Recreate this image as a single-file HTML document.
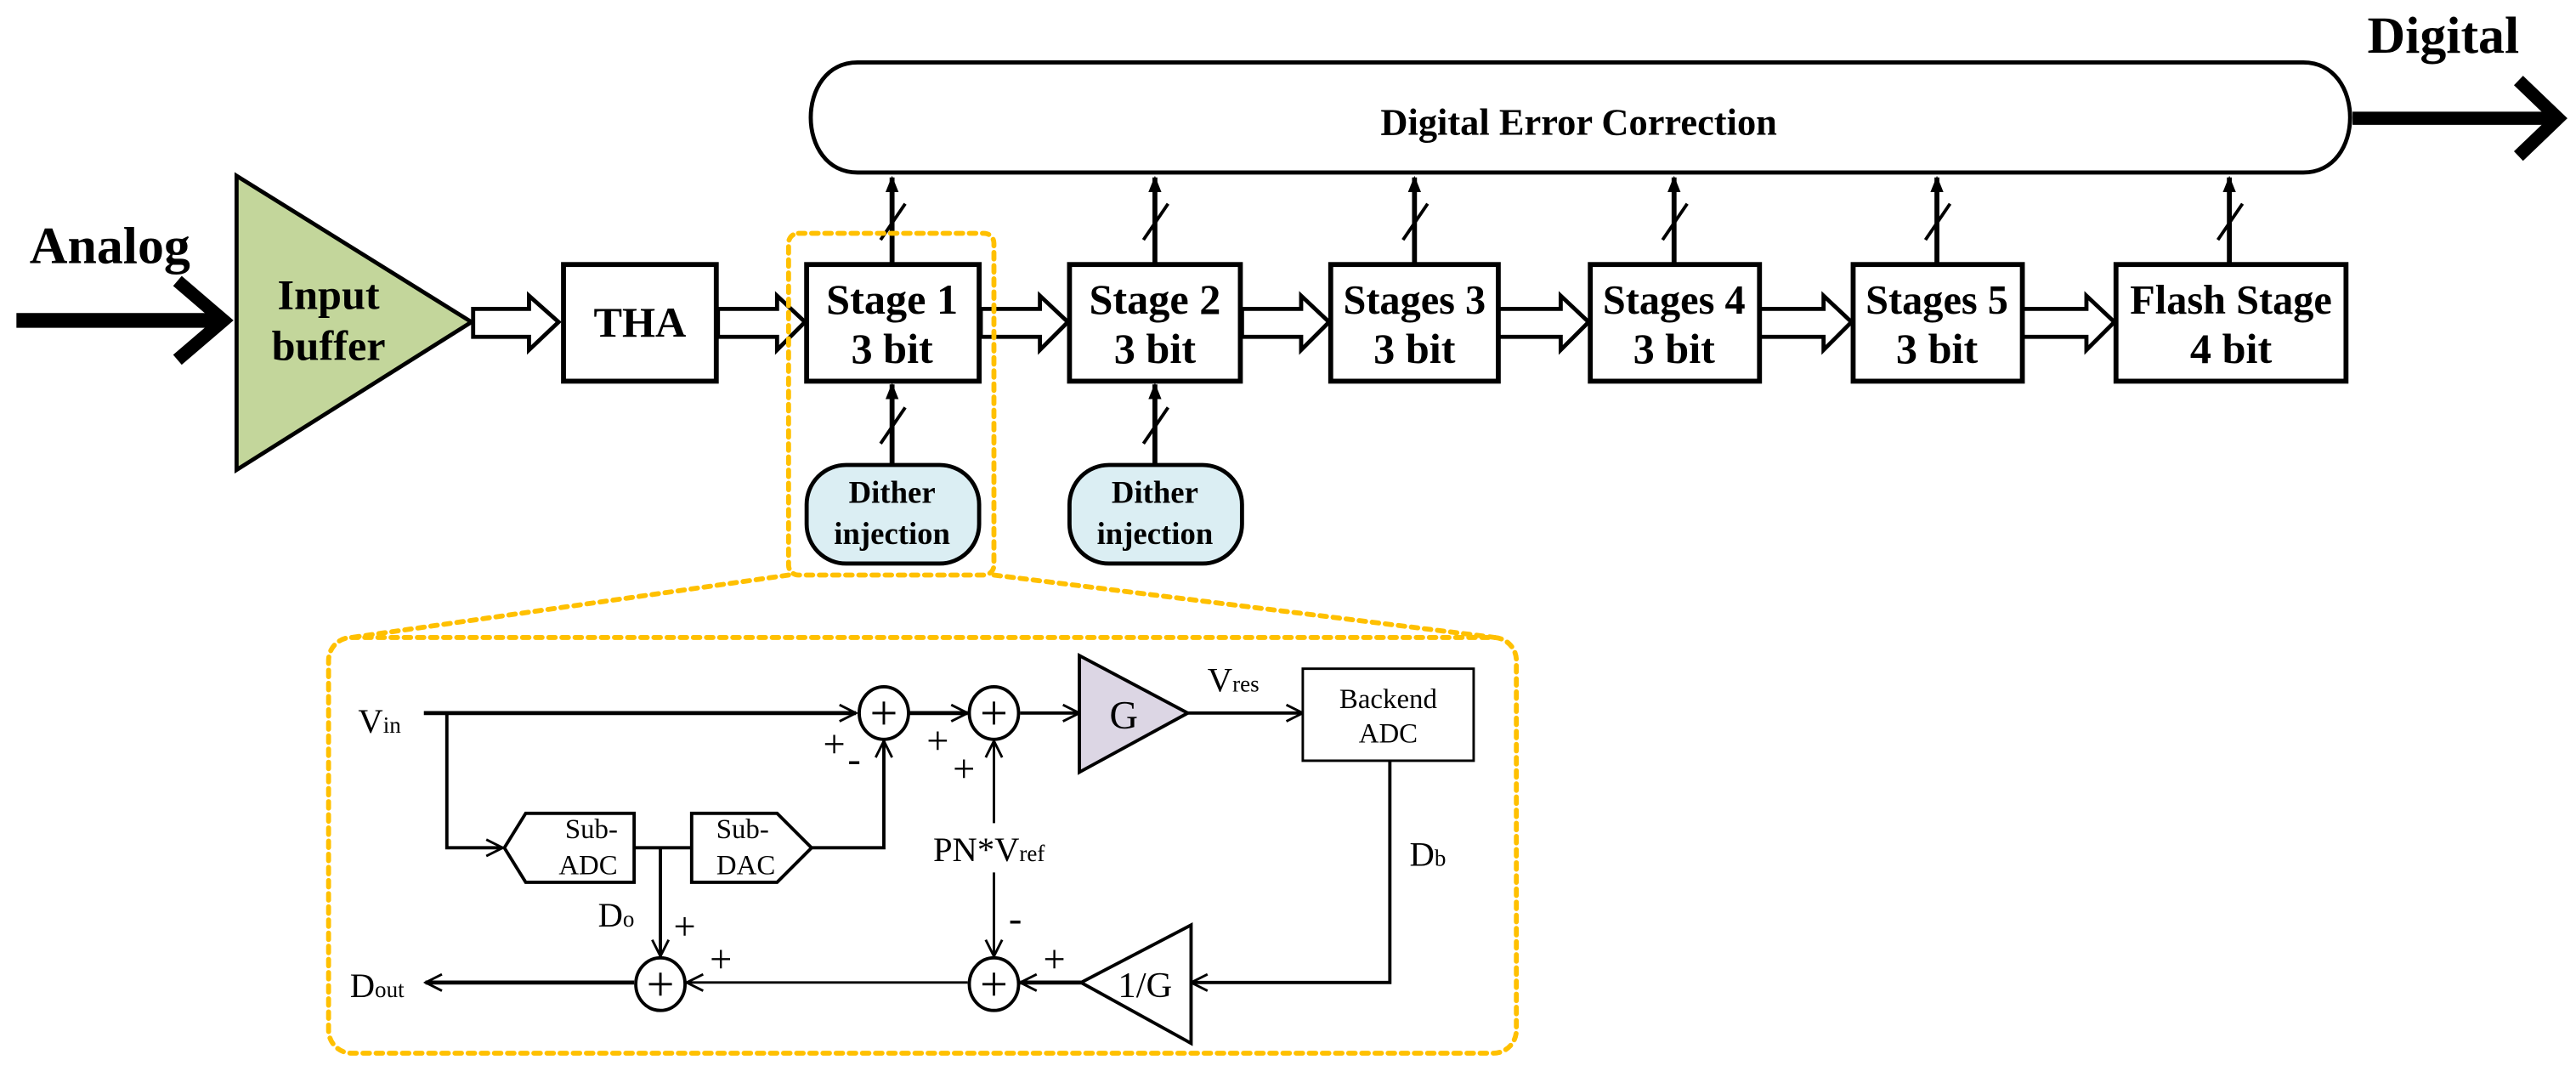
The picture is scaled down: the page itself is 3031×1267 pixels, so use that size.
<!DOCTYPE html>
<html><head><meta charset="utf-8"><style>
html,body{margin:0;padding:0;background:#fff;}
svg{display:block;}
</style></head><body>
<svg width="3031" height="1267" viewBox="0 0 1568 655.5" preserveAspectRatio="none" xmlns="http://www.w3.org/2000/svg" font-family="Liberation Serif, DejaVu Serif, serif">
<defs>
<marker id="ah" markerWidth="10" markerHeight="10" refX="9" refY="5" orient="auto" markerUnits="userSpaceOnUse">
<path d="M0,1 L10,5 L0,9 Z" fill="#000"/></marker>
<marker id="oa" markerWidth="12" markerHeight="12" refX="11" refY="6" orient="auto" markerUnits="userSpaceOnUse">
<path d="M1,1 L11,6 L1,11" fill="none" stroke="#000" stroke-width="1.5"/></marker>
</defs>

<text x="18" y="160" font-weight="bold" font-size="32" font-family="Liberation Serif, serif">Analog</text>
<line x1="10" y1="195" x2="132" y2="195" stroke="#000" stroke-width="9"/>
<polyline points="108,171 136,195 108,219" fill="none" stroke="#000" stroke-width="8"/>

<polygon points="144,107 144,286 287,196" fill="#c3d69b" stroke="#000" stroke-width="2.5"/>
<g font-weight="bold" font-size="26" text-anchor="middle" font-family="Liberation Serif, serif">
<text x="200" y="188">Input</text>
<text x="200" y="219">buffer</text>
</g>

<g fill="#fff" stroke="#000" stroke-width="2.5">
<path d="M288,188 H322 V180 L340,196 L322,213 V205 H288 Z"/>
<path d="M437,188 H473 V180 L490,196 L473,213 V205 H437 Z"/>
<path d="M597,188 H633 V180 L650,196 L633,213 V205 H597 Z"/>
<path d="M756,188 H792 V180 L809,196 L792,213 V205 H756 Z"/>
<path d="M912,188 H950 V180 L967,196 L950,213 V205 H912 Z"/>
<path d="M1071,188 H1110 V180 L1127,196 L1110,213 V205 H1071 Z"/>
<path d="M1231,188 H1270 V180 L1287,196 L1270,213 V205 H1231 Z"/>
</g>

<g fill="#fff" stroke="#000" stroke-width="3">
<rect x="343" y="161" width="93" height="71"/>
<rect x="491" y="161" width="105" height="71"/>
<rect x="651" y="161" width="104" height="71"/>
<rect x="810" y="161" width="102" height="71"/>
<rect x="968" y="161" width="103" height="71"/>
<rect x="1128" y="161" width="103" height="71"/>
<rect x="1288" y="161" width="140" height="71"/>
</g>
<g font-weight="bold" font-size="26" text-anchor="middle" font-family="Liberation Serif, serif">
<text x="389.5" y="205">THA</text>
<text x="543" y="191">Stage 1</text><text x="543" y="221">3 bit</text>
<text x="703" y="191">Stage 2</text><text x="703" y="221">3 bit</text>
<text x="861" y="191" font-size="25">Stages 3</text><text x="861" y="221">3 bit</text>
<text x="1019" y="191" font-size="25">Stages 4</text><text x="1019" y="221">3 bit</text>
<text x="1179" y="191" font-size="25">Stages 5</text><text x="1179" y="221">3 bit</text>
<text x="1358" y="191" font-size="25">Flash Stage</text><text x="1358" y="221">4 bit</text>
</g>

<path d="M522,38 H1402 C1440,38 1440,105 1402,105 H522 C484,105 484,38 522,38 Z" fill="#fff" stroke="#000" stroke-width="2.5"/>
<text x="961" y="82" font-weight="bold" font-size="23" text-anchor="middle">Digital Error Correction</text>
<text x="1441" y="32" font-weight="bold" font-size="32">Digital</text>
<line x1="1432" y1="72" x2="1552" y2="72" stroke="#000" stroke-width="8"/>
<polyline points="1533,49 1557,72 1533,95" fill="none" stroke="#000" stroke-width="8"/>

<g stroke="#000" stroke-width="3">
<line x1="543" y1="161" x2="543" y2="108" marker-end="url(#ah)"/>
<line x1="703" y1="161" x2="703" y2="108" marker-end="url(#ah)"/>
<line x1="861" y1="161" x2="861" y2="108" marker-end="url(#ah)"/>
<line x1="1019" y1="161" x2="1019" y2="108" marker-end="url(#ah)"/>
<line x1="1179" y1="161" x2="1179" y2="108" marker-end="url(#ah)"/>
<line x1="1357" y1="161" x2="1357" y2="108" marker-end="url(#ah)"/>
<line x1="543" y1="283" x2="543" y2="234" marker-end="url(#ah)"/>
<line x1="703" y1="283" x2="703" y2="234" marker-end="url(#ah)"/>
</g>
<g stroke="#000" stroke-width="2">
<line x1="536" y1="146" x2="551" y2="124"/>
<line x1="696" y1="146" x2="711" y2="124"/>
<line x1="854" y1="146" x2="869" y2="124"/>
<line x1="1012" y1="146" x2="1027" y2="124"/>
<line x1="1172" y1="146" x2="1187" y2="124"/>
<line x1="1350" y1="146" x2="1365" y2="124"/>
<line x1="536" y1="270" x2="551" y2="248"/>
<line x1="696" y1="270" x2="711" y2="248"/>
</g>

<rect x="491" y="283" width="105" height="60" rx="24" fill="#dbeef3" stroke="#000" stroke-width="2.5"/>
<rect x="651" y="283" width="105" height="60" rx="24" fill="#dbeef3" stroke="#000" stroke-width="2.5"/>
<g font-weight="bold" font-size="19" text-anchor="middle">
<text x="543" y="306">Dither</text><text x="543" y="331">injection</text>
<text x="703" y="306">Dither</text><text x="703" y="331">injection</text>
</g>

<g fill="none" stroke="#ffc000" stroke-width="3" stroke-dasharray="4 4" stroke-linecap="round">
<rect x="480" y="142" width="125" height="208" rx="6"/>
<rect x="200" y="388" width="723" height="253" rx="14"/>
<line x1="480" y1="350" x2="214" y2="388"/>
<line x1="605" y1="350" x2="910" y2="388"/>
</g>

<g stroke="#000" fill="none" stroke-width="1.5">
<line x1="258" y1="434" x2="521" y2="434" stroke-width="2.5" marker-end="url(#oa)"/>
<line x1="553" y1="434" x2="589" y2="434" stroke-width="2.5" marker-end="url(#oa)"/>
<line x1="621" y1="434" x2="657" y2="434" stroke-width="2" marker-end="url(#oa)"/>
<line x1="723" y1="434" x2="793" y2="434" stroke-width="2" marker-end="url(#oa)"/>
<polyline points="272,434 272,516 306,516" marker-end="url(#oa)" stroke-width="2"/>
<line x1="386" y1="516" x2="421" y2="516" stroke-width="2"/>
<polyline points="494,516 538,516 538,451" stroke-width="2" marker-end="url(#oa)"/>
<line x1="402" y1="516" x2="402" y2="582" stroke-width="2" marker-end="url(#oa)"/>
<line x1="605" y1="501" x2="605" y2="451" stroke-width="1.5" marker-end="url(#oa)"/>
<line x1="605" y1="531" x2="605" y2="582" stroke-width="1.5" marker-end="url(#oa)"/>
<polyline points="846,463 846,598 725,598" stroke-width="2" marker-end="url(#oa)"/>
<line x1="658" y1="598" x2="621" y2="598" stroke-width="2.5" marker-end="url(#oa)"/>
<line x1="589" y1="598" x2="418" y2="598" stroke-width="1.5" marker-end="url(#oa)"/>
<line x1="386" y1="598" x2="259" y2="598" stroke-width="2.5" marker-end="url(#oa)"/>
</g>
<g stroke="#000" stroke-width="2" fill="#fff">
<ellipse cx="538" cy="434" rx="15" ry="16"/>
<ellipse cx="605" cy="434" rx="15" ry="16"/>
<ellipse cx="605" cy="599" rx="15" ry="16"/>
<ellipse cx="402" cy="599" rx="15" ry="16"/>
<polygon points="657,399 657,470 723,434" fill="#dcd6e4"/>
<polygon points="725,563 725,635 658,598"/>
<rect x="793" y="407" width="104" height="56" stroke-width="1.5"/>
<polygon points="307,516 320,495 386,495 386,537 320,537"/>
<polygon points="421,495 473,495 494,516 473,537 421,537"/>
</g>
<g stroke="#000" stroke-width="1.5">
<line x1="531" y1="434" x2="545" y2="434"/><line x1="538" y1="427" x2="538" y2="441"/>
<line x1="598" y1="434" x2="612" y2="434"/><line x1="605" y1="427" x2="605" y2="441"/>
<line x1="598" y1="599" x2="612" y2="599"/><line x1="605" y1="592" x2="605" y2="606"/>
<line x1="395" y1="599" x2="409" y2="599"/><line x1="402" y1="592" x2="402" y2="606"/>
</g>
<g font-size="21" fill="#000">
<text x="218" y="446">V<tspan font-size="14">in</tspan></text>
<text x="735" y="421">V<tspan font-size="14">res</tspan></text>
<text x="684" y="443" font-size="24" text-anchor="middle">G</text>
<text x="697" y="607" font-size="22" text-anchor="middle">1/G</text>
<text x="845" y="431" font-size="17" text-anchor="middle">Backend</text>
<text x="845" y="452" font-size="17" text-anchor="middle">ADC</text>
<text x="360" y="510" font-size="17" text-anchor="middle">Sub-</text>
<text x="358" y="532" font-size="17" text-anchor="middle">ADC</text>
<text x="452" y="510" font-size="17" text-anchor="middle">Sub-</text>
<text x="454" y="532" font-size="17" text-anchor="middle">DAC</text>
<text x="568" y="524">PN*V<tspan font-size="14">ref</tspan></text>
<text x="858" y="527">D<tspan font-size="14">b</tspan></text>
<text x="364" y="564">D<tspan font-size="14">o</tspan></text>
<text x="213" y="607">D<tspan font-size="14">out</tspan></text>
<text x="501" y="461" font-size="24">+</text><text x="516" y="470" font-size="24">-</text>
<text x="564" y="459" font-size="24">+</text><text x="580" y="476" font-size="24">+</text>
<text x="614" y="567" font-size="24">-</text><text x="635" y="592" font-size="24">+</text>
<text x="410" y="572" font-size="24">+</text><text x="432" y="592" font-size="24">+</text>
</g>
</svg>
</body></html>
